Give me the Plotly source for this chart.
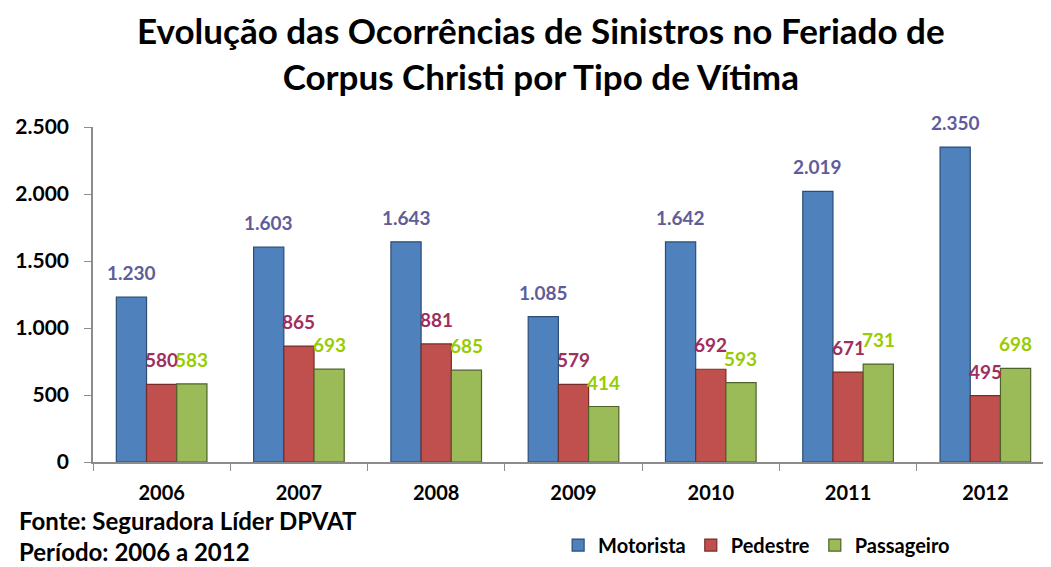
import plotly.graph_objects as go

years = ["2006", "2007", "2008", "2009", "2010", "2011", "2012"]
motorista = [1230, 1603, 1643, 1085, 1642, 2019, 2350]
pedestre = [580, 865, 881, 579, 692, 671, 495]
passageiro = [583, 693, 685, 414, 593, 731, 698]
y_ticks = [0, 500, 1000, 1500, 2000, 2500]

series = [
    ("Motorista", motorista, "#4F81BD", "#2C4D75", "#5F5D99", -30.2),
    ("Pedestre", pedestre, "#C0504D", "#772C2A", "#9E2F5E", 0),
    ("Passageiro", passageiro, "#9BBB59", "#4F6228", "#99CC00", 30.2),
]

fig = go.Figure()
annotations = []
for name, vals, col, line, tcol, dx in series:
    fig.add_trace(go.Bar(
        name=name, x=years, y=vals,
        marker=dict(color=col, line=dict(color=line, width=1.2)),
    ))
    for i, v in enumerate(vals):
        annotations.append(dict(
            x=i, y=v, xref="x", yref="y", text=f"<b>{v:,}</b>".replace(",", "."),
            showarrow=False, xanchor="center", yanchor="bottom",
            xshift=dx, yshift=11,
            font=dict(family="Lato", size=19, color=tcol),
        ))

annotations += [
    dict(text="<b>Evolução das Ocorrências de Sinistros no Feriado de<br>Corpus Christi por Tipo de Vítima</b>",
         xref="paper", yref="paper", x=0.466, y=1.358, xanchor="center", yanchor="top",
         align="center", showarrow=False,
         font=dict(family="Lato", size=35, color="black")),
    dict(text="<b>Fonte: Seguradora Líder DPVAT<br>Período: 2006 a 2012</b>",
         xref="paper", yref="paper", x=-0.078, y=-0.128, xanchor="left", yanchor="top",
         align="left", showarrow=False, borderpad=0,
         font=dict(family="Lato", size=24, color="black")),
]

fig.update_layout(
    width=1051, height=567,
    paper_bgcolor="white", plot_bgcolor="white",
    separators=",.",
    margin=dict(l=85, r=5, t=119, b=113, autoexpand=False),
    barmode="group", bargap=0.34, bargroupgap=0,
    font=dict(family="Lato", color="black"),
    legend=dict(
        orientation="h", x=0.484, y=-0.248, xanchor="left", yanchor="middle",
        font=dict(family="Lato", size=20, color="black", weight="bold"),
        itemwidth=30, tracegroupgap=0,
    ),
    xaxis=dict(
        type="category", range=[-0.5, 6.5],
        showline=True, linecolor="#8C8C8C", linewidth=1.5,
        ticks="outside", tickson="boundaries", ticklen=7, tickcolor="#8C8C8C",
        ticklabelstandoff=12,
        tickfont=dict(family="Lato", size=20, color="black", weight="bold"),
        showgrid=False,
    ),
    yaxis=dict(
        range=[0, 2500], tickvals=y_ticks, tickformat=",d",
        showline=True, linecolor="#8C8C8C", linewidth=1.5,
        ticks="outside", ticklen=7, tickcolor="#8C8C8C",
        ticklabelstandoff=11,
        tickfont=dict(family="Lato", size=21, color="black", weight="bold"),
        showgrid=False, zeroline=False,
    ),
    annotations=annotations,
)

fig.write_html("out.html")
